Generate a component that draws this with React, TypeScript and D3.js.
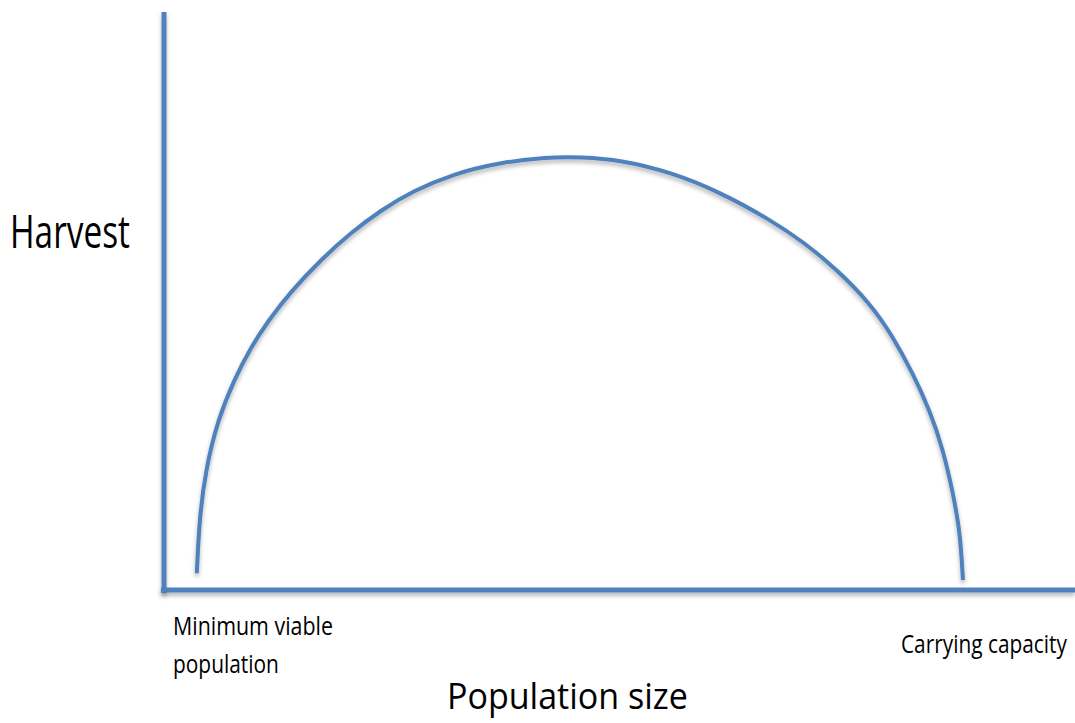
import React, { useRef, useEffect } from 'react';
import * as d3 from 'd3';

// population size (0-100) vs harvest (0-100)
const population = [3.6, 3.9, 4.6, 5.9, 7.7, 9.5, 11.4, 13.9, 17.2, 20.5, 23.8, 27.4, 31.8, 36.6, 42.1, 45.7,
    50.1, 55.6, 61.1, 66.6, 70.2, 73.9, 77.5, 80.0, 82.2, 84.1, 85.5, 86.6, 87.4, 87.7];
const harvest = [2.9, 12.7, 21.0, 29.4, 36.4, 41.9, 46.5, 51.6, 57.1, 61.8, 65.7, 69.1, 72.0, 73.9, 74.9, 74.9,
    74.4, 72.3, 68.8, 64.0, 60.2, 55.4, 49.6, 43.9, 37.5, 30.9, 24.4, 16.9, 9.9, 1.7];

const xTitle = 'Population size';
const yTitle = 'Harvest';
const minLabel = ['Minimum viable', 'population'];
const maxLabel = 'Carrying capacity';

const W = 1075, H = 723;
const BLUE = '#4f81bd';

export default function App() {
    const svg_ref = useRef<SVGSVGElement>(null);
    useEffect(() => draw(svg_ref.current), []);
    return (
        <svg ref={svg_ref} width={W} height={H}
            style={{ position: 'absolute', left: 0, top: 0, background: '#fff' }}></svg>
    );
}

function draw(el) {
    const svg = d3.select(el);
    svg.selectAll('*').remove();

    const x = d3.scaleLinear().domain([0, 100]).range([164, 1075]);
    const y = d3.scaleLinear().domain([0, 100]).range([590, 12]);

    // office-like soft shadow under the strokes
    const defs = svg.append('defs');
    const f = defs.append('filter').attr('id', 'shadow')
        .attr('filterUnits', 'userSpaceOnUse')
        .attr('x', 0).attr('y', 0).attr('width', W).attr('height', H);
    f.append('feDropShadow')
        .attr('dx', 0).attr('dy', 3).attr('stdDeviation', 2)
        .attr('flood-color', '#000').attr('flood-opacity', 0.3);

    // axes
    svg.append('line')
        .attr('x1', x(0)).attr('x2', x(0))
        .attr('y1', y(100)).attr('y2', y(0) + 3)
        .attr('stroke', BLUE).attr('stroke-width', 5)
        .attr('filter', 'url(#shadow)');
    svg.append('line')
        .attr('x1', x(0) - 3).attr('x2', x(100))
        .attr('y1', y(0)).attr('y2', y(0))
        .attr('stroke', BLUE).attr('stroke-width', 5)
        .attr('filter', 'url(#shadow)');

    const pts = population.map((p, i) => [p, harvest[i]]);
    const line = d3.line()
        .x(d => x(d[0]))
        .y(d => y(d[1]))
        .curve(d3.curveBasis);

    svg.append('path')
        .attr('d', line(pts))
        .attr('fill', 'none')
        .attr('stroke', BLUE)
        .attr('stroke-width', 4)
        .attr('filter', 'url(#shadow)');

    // narrow the text horizontally to the widths seen in the picture
    const font = '"Open Sans", Arial, sans-serif';
    const txt = (s, tx, ty, size, len) => {
        const t = svg.append('text')
            .attr('font-family', font).attr('font-size', size)
            .attr('fill', '#000')
            .text(s);
        const natural = t.node().getComputedTextLength() || len;
        t.attr('transform', `translate(${tx},${ty}) scale(${len / natural},1)`);
        return t;
    };

    txt(yTitle, 10, 248, 46, 120);
    txt(xTitle, 447, 709, 36, 241);
    txt(minLabel[0], 173, 635, 25, 160);
    txt(minLabel[1], 173, 673, 25, 106);
    txt(maxLabel, 901, 653, 25, 166);
}
